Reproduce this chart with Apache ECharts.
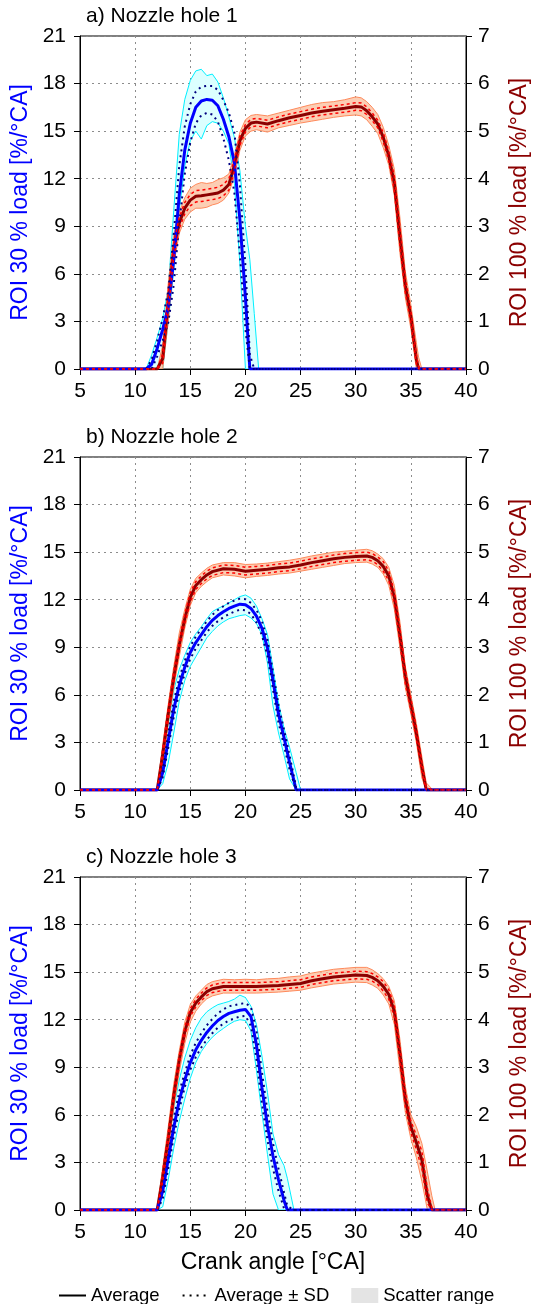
<!DOCTYPE html>
<html><head><meta charset="utf-8">
<script src="https://cdn.jsdelivr.net/npm/echarts@6/dist/echarts.min.js"></script>
<style>html,body{margin:0;padding:0;background:#fff;overflow:hidden}#c{width:534px;height:1304px}</style>
</head><body><div id="c"></div>
<script>
// ---------- data ----------
const xTicks = [5, 10, 15, 20, 25, 30, 35, 40];
const leftTicks = [0, 3, 6, 9, 12, 15, 18, 21];
const rightTicks = [0, 1, 2, 3, 4, 5, 6, 7];
const panelTitles = ['a) Nozzle hole 1', 'b) Nozzle hole 2', 'c) Nozzle hole 3'];

// panel a, 30 % load
const a30x   = [5, 11, 11.5, 12, 12.5, 13, 13.5, 14, 14.5, 15, 15.5, 16, 16.5, 17, 17.5, 18, 18.5, 19, 19.5, 20, 20.4, 20.8, 21.2, 40];
const a30avg = [0, 0, 0.3, 1.3, 2.5, 3.9, 6.9, 11.0, 13.8, 15.5, 16.5, 16.9, 17.0, 16.95, 16.6, 15.75, 14.65, 13.0, 9.4, 4.5, 0, 0, 0, 0];
const a30sd  = [0, 0, 0.3, 0.5, 0.7, 1.0, 1.6, 1.8, 1.5, 1.2, 1.0, 0.9, 0.85, 0.9, 1.0, 1.2, 1.5, 1.9, 2.2, 2.0, 0.9, 0, 0, 0];
const a30hi  = [0, 0, 0.9, 2.0, 3.2, 5.0, 10.0, 14.8, 17.0, 18.2, 18.8, 18.9, 18.5, 18.6, 18.1, 17.1, 15.9, 14.6, 12.5, 9.0, 6.9, 3.5, 0, 0];
const a30lo  = [0, 0, 0, 0, 0, 3.0, 6.2, 10.0, 12.8, 14.4, 15.0, 14.5, 15.35, 15.6, 15.5, 15.0, 14.2, 11.7, 6.6, 0, 0, 0, 0, 0];
// panel a, 100 % load
const a100x   = [5, 12, 12.5, 13, 13.5, 14, 14.5, 15, 15.5, 16, 16.5, 17, 17.5, 18, 18.5, 19, 19.5, 20, 20.5, 21, 22, 23, 24, 25, 26, 27, 28, 29, 30, 30.5, 31, 31.5, 32, 32.5, 33, 33.5, 34, 34.5, 35, 35.5, 35.7, 36, 40];
const a100avg = [0, 0, 0.22, 1.4, 2.5, 3.07, 3.38, 3.55, 3.63, 3.64, 3.66, 3.68, 3.7, 3.76, 3.88, 4.28, 4.8, 5.06, 5.17, 5.19, 5.15, 5.22, 5.28, 5.33, 5.38, 5.42, 5.45, 5.48, 5.52, 5.51, 5.43, 5.3, 5.15, 4.87, 4.48, 3.9, 2.8, 1.75, 1.1, 0.2, 0, 0, 0];
const a100sd  = [0, 0, 0.1, 0.2, 0.15, 0.12, 0.12, 0.12, 0.12, 0.12, 0.12, 0.12, 0.12, 0.12, 0.12, 0.12, 0.1, 0.08, 0.08, 0.08, 0.08, 0.08, 0.08, 0.08, 0.08, 0.08, 0.08, 0.08, 0.08, 0.08, 0.08, 0.08, 0.08, 0.1, 0.1, 0.15, 0.2, 0.15, 0.12, 0.1, 0.05, 0, 0];
const a100hi  = [0, 0, 0.5, 1.8, 2.8, 3.3, 3.6, 3.8, 3.88, 3.92, 3.9, 3.92, 3.98, 4.02, 4.1, 4.5, 4.98, 5.24, 5.33, 5.35, 5.32, 5.38, 5.44, 5.5, 5.56, 5.6, 5.62, 5.66, 5.72, 5.7, 5.62, 5.5, 5.35, 5.08, 4.7, 4.2, 3.2, 2.05, 1.35, 0.55, 0.25, 0, 0];
const a100lo  = [0, 0, 0, 1.0, 2.2, 2.85, 3.15, 3.3, 3.38, 3.38, 3.4, 3.45, 3.48, 3.55, 3.7, 4.05, 4.6, 4.9, 5.0, 5.03, 4.98, 5.07, 5.12, 5.17, 5.21, 5.25, 5.29, 5.32, 5.34, 5.32, 5.24, 5.1, 4.95, 4.65, 4.28, 3.65, 2.45, 1.5, 0.85, 0, 0, 0, 0];

// panel b, 30 % load
const b30x   = [5, 12, 12.5, 13, 13.5, 14, 14.5, 15, 15.5, 16, 16.5, 17, 17.5, 18, 18.5, 19, 19.5, 20, 20.5, 21, 21.5, 22, 22.5, 23, 23.5, 24, 24.6, 25, 40];
const b30avg = [0, 0, 1.1, 3.1, 5.1, 6.6, 7.75, 8.67, 9.3, 9.8, 10.3, 10.7, 11.0, 11.24, 11.45, 11.6, 11.72, 11.68, 11.45, 10.96, 10.2, 8.95, 6.9, 4.8, 3.3, 1.75, 0, 0, 0];
const b30sd  = [0, 0, 0.3, 0.45, 0.5, 0.45, 0.4, 0.4, 0.38, 0.36, 0.35, 0.35, 0.35, 0.35, 0.35, 0.35, 0.35, 0.35, 0.35, 0.4, 0.45, 0.5, 0.55, 0.55, 0.5, 0.45, 0.15, 0, 0];
const b30hi  = [0, 0, 2.0, 4.1, 6.3, 7.6, 8.5, 9.3, 9.85, 10.3, 10.8, 11.25, 11.45, 11.6, 11.8, 12.0, 12.2, 12.3, 12.1, 11.6, 10.8, 9.8, 7.7, 5.5, 3.9, 2.7, 1.1, 0, 0];
const b30lo  = [0, 0, 0.4, 1.7, 3.6, 5.6, 6.9, 7.8, 8.4, 9.0, 9.6, 10.0, 10.35, 10.6, 10.8, 10.9, 11.0, 11.05, 10.85, 10.5, 9.8, 8.0, 5.3, 3.6, 2.2, 0.7, 0, 0, 0];
// panel b, 100 % load
const b100x   = [5, 12, 12.5, 13, 13.5, 14, 14.5, 15, 15.5, 16, 16.5, 17, 18, 19, 20, 21, 22, 23, 24, 25, 26, 27, 28, 29, 30, 31, 31.5, 32, 32.5, 33, 33.5, 34, 34.5, 35, 35.5, 36, 36.4, 37, 40];
const b100avg = [0, 0, 0.75, 1.6, 2.37, 3.05, 3.6, 4.05, 4.3, 4.42, 4.52, 4.59, 4.65, 4.64, 4.6, 4.62, 4.64, 4.67, 4.69, 4.73, 4.78, 4.82, 4.86, 4.89, 4.91, 4.92, 4.89, 4.82, 4.7, 4.5, 4.05, 3.27, 2.38, 1.8, 1.19, 0.48, 0, 0, 0];
const b100sd  = [0, 0, 0.1, 0.12, 0.12, 0.1, 0.1, 0.1, 0.08, 0.08, 0.08, 0.08, 0.08, 0.08, 0.08, 0.08, 0.08, 0.08, 0.08, 0.08, 0.08, 0.08, 0.08, 0.08, 0.08, 0.08, 0.08, 0.08, 0.1, 0.1, 0.12, 0.15, 0.15, 0.12, 0.12, 0.1, 0.05, 0, 0];
const b100hi  = [0, 0, 0.95, 1.8, 2.6, 3.3, 3.8, 4.22, 4.45, 4.56, 4.66, 4.73, 4.78, 4.78, 4.74, 4.75, 4.77, 4.8, 4.83, 4.87, 4.92, 4.96, 5.0, 5.02, 5.04, 5.06, 5.03, 4.96, 4.86, 4.68, 4.3, 3.55, 2.6, 2.0, 1.4, 0.7, 0.15, 0, 0];
const b100lo  = [0, 0, 0.55, 1.4, 2.15, 2.8, 3.4, 3.88, 4.15, 4.28, 4.38, 4.46, 4.52, 4.5, 4.46, 4.49, 4.51, 4.54, 4.56, 4.6, 4.64, 4.68, 4.72, 4.76, 4.78, 4.79, 4.75, 4.68, 4.54, 4.3, 3.8, 3.0, 2.15, 1.6, 1.0, 0.25, 0, 0, 0];

// panel c, 30 % load
const c30x   = [5, 12, 12.5, 13, 13.5, 14, 14.5, 15, 15.5, 16, 16.5, 17, 17.5, 18, 18.5, 19, 19.5, 20, 20.5, 21, 21.5, 22, 22.5, 23, 23.5, 23.8, 24.4, 40];
const c30avg = [0, 0, 1.2, 3.2, 5.2, 6.9, 8.2, 9.3, 10.1, 10.7, 11.2, 11.6, 11.95, 12.2, 12.4, 12.5, 12.6, 12.65, 12.2, 10.4, 7.7, 5.3, 3.4, 1.9, 0.6, 0, 0, 0];
const c30sd  = [0, 0, 0.5, 0.6, 0.6, 0.55, 0.45, 0.45, 0.45, 0.45, 0.45, 0.45, 0.45, 0.45, 0.45, 0.42, 0.4, 0.4, 0.6, 0.9, 1.0, 0.9, 0.8, 0.7, 0.5, 0.25, 0, 0];
const c30hi  = [0, 0, 1.8, 4.2, 6.4, 8.2, 9.6, 10.7, 11.5, 12.1, 12.5, 12.75, 12.95, 13.05, 13.15, 13.3, 13.55, 13.4, 12.85, 11.7, 9.7, 7.4, 4.8, 3.5, 2.8, 2.0, 0, 0];
const c30lo  = [0, 0, 0.2, 1.9, 3.9, 5.6, 7.0, 8.3, 9.3, 10.0, 10.5, 10.9, 11.2, 11.45, 11.7, 11.9, 12.0, 11.95, 11.3, 8.8, 6.1, 3.5, 1.0, 0, 0, 0, 0, 0];
// panel c, 100 % load
const c100x   = [5, 12, 12.5, 13, 13.5, 14, 14.5, 15, 15.5, 16, 16.5, 17, 18, 19, 20, 21, 22, 23, 24, 25, 26, 27, 28, 29, 30, 31, 31.5, 32, 32.5, 33, 33.5, 34, 34.5, 35, 35.5, 36, 36.5, 36.9, 37.2, 40];
const c100avg = [0, 0, 0.7, 1.5, 2.4, 3.15, 3.75, 4.15, 4.35, 4.48, 4.59, 4.65, 4.7, 4.7, 4.7, 4.7, 4.71, 4.72, 4.74, 4.76, 4.82, 4.86, 4.9, 4.92, 4.94, 4.93, 4.89, 4.82, 4.7, 4.53, 4.18, 3.3, 2.32, 1.75, 1.42, 1.05, 0.3, 0, 0, 0];
const c100sd  = [0, 0, 0.1, 0.12, 0.12, 0.1, 0.1, 0.08, 0.08, 0.08, 0.08, 0.08, 0.08, 0.08, 0.08, 0.08, 0.08, 0.08, 0.08, 0.08, 0.08, 0.08, 0.08, 0.08, 0.08, 0.08, 0.08, 0.08, 0.1, 0.1, 0.12, 0.15, 0.15, 0.12, 0.15, 0.18, 0.15, 0.05, 0, 0];
const c100hi  = [0, 0, 0.9, 1.75, 2.65, 3.35, 3.95, 4.32, 4.5, 4.62, 4.74, 4.8, 4.85, 4.84, 4.85, 4.84, 4.86, 4.87, 4.9, 4.92, 4.98, 5.02, 5.06, 5.08, 5.1, 5.1, 5.05, 4.97, 4.86, 4.7, 4.4, 3.6, 2.6, 2.0, 1.75, 1.4, 0.8, 0.3, 0, 0];
const c100lo  = [0, 0, 0.5, 1.25, 2.15, 2.9, 3.5, 3.95, 4.18, 4.33, 4.44, 4.5, 4.56, 4.56, 4.56, 4.56, 4.57, 4.58, 4.6, 4.62, 4.67, 4.71, 4.75, 4.77, 4.79, 4.78, 4.73, 4.66, 4.52, 4.33, 3.9, 2.95, 2.05, 1.5, 1.1, 0.6, 0, 0, 0, 0];

const legendNames = ['Average', 'Average \u00b1 SD', 'Scatter range'];

// ---------- layout / styles ----------
const FONT = 'Liberation Sans, Arial, sans-serif';
const gridTops = [36, 457, 877];
const titleTops = [5, 426, 846];
const panels = [
  { low: {x: a30x, avg: a30avg, sd: a30sd, hi: a30hi, lo: a30lo}, high: {x: a100x, avg: a100avg, sd: a100sd, hi: a100hi, lo: a100lo} },
  { low: {x: b30x, avg: b30avg, sd: b30sd, hi: b30hi, lo: b30lo}, high: {x: b100x, avg: b100avg, sd: b100sd, hi: b100hi, lo: b100lo} },
  { low: {x: c30x, avg: c30avg, sd: c30sd, hi: c30hi, lo: c30lo}, high: {x: c100x, avg: c100avg, sd: c100sd, hi: c100hi, lo: c100lo} }
];

const pairs = (xs, ys) => xs.map((v, k) => [v, ys[k]]);
const plusSd = d => d.x.map((v, k) => [v, d.avg[k] + d.sd[k]]);
const minusSd = d => d.x.map((v, k) => [v, Math.max(0, d.avg[k] - d.sd[k])]);

function band(i, yIdx, d, fill, stroke, z) {
  return {
    type: 'custom', xAxisIndex: i, yAxisIndex: yIdx, z: z, silent: true, clip: true,
    data: [[d.x[0], 0]],
    renderItem: function (params, api) {
      const pts = [];
      for (let k = 0; k < d.x.length; k++) pts.push(api.coord([d.x[k], d.hi[k]]));
      for (let k = d.x.length - 1; k >= 0; k--) pts.push(api.coord([d.x[k], d.lo[k]]));
      return { type: 'polygon', shape: { points: pts }, style: { fill: fill, stroke: stroke, lineWidth: 1 } };
    }
  };
}
function line(i, yIdx, data, color, width, type, z) {
  return {
    type: 'line', xAxisIndex: i, yAxisIndex: yIdx, data: data, z: z, silent: true,
    symbol: 'none', lineStyle: { color: color, width: width, type: type }, itemStyle: { color: color }
  };
}

const grids = [], xAxes = [], yAxes = [], series = [], titles = [];
const dotted = { color: '#8c8c8c', width: 1, type: [2, 4] };
panels.forEach((p, i) => {
  grids.push({ left: 80, right: 68, top: gridTops[i], height: 333, show: true, borderColor: '#000', borderWidth: 1,
    containLabel: false, outerBoundsMode: 'none' });
  titles.push({ text: panelTitles[i], left: 86, top: titleTops[i], padding: 0,
    textStyle: { fontFamily: FONT, fontSize: 21, fontWeight: 'normal', color: '#000', lineHeight: 22 } });
  xAxes.push({
    gridIndex: i, type: 'value', min: xTicks[0], max: xTicks[xTicks.length - 1], interval: 5,
    axisLine: { show: true, onZero: false, lineStyle: { color: '#000', width: 1 } },
    axisTick: { show: true, inside: false, length: 6, lineStyle: { color: '#000' } },
    axisLabel: { color: '#000', fontFamily: FONT, fontSize: 21, margin: 12 },
    splitLine: { show: true, lineStyle: dotted },
    name: i === 2 ? 'Crank angle [\u00b0CA]' : '', nameLocation: 'middle', nameGap: 41,
    nameTextStyle: { color: '#000', fontFamily: FONT, fontSize: 23 }
  });
  yAxes.push({
    gridIndex: i, type: 'value', position: 'left', min: leftTicks[0], max: leftTicks[leftTicks.length - 1], interval: 3,
    axisLine: { show: true, onZero: false, lineStyle: { color: '#000', width: 1 } },
    axisTick: { show: true, inside: false, length: 6, lineStyle: { color: '#000' } },
    axisLabel: { color: '#000', fontFamily: FONT, fontSize: 21, margin: 14 },
    splitLine: { show: true, lineStyle: dotted },
    name: 'ROI 30 % load [%/\u00b0CA]', nameLocation: 'middle', nameRotate: 90, nameGap: 42,
    nameTextStyle: { color: '#0000ff', fontFamily: FONT, fontSize: 23 }
  });
  yAxes.push({
    gridIndex: i, type: 'value', position: 'right', min: rightTicks[0], max: rightTicks[rightTicks.length - 1], interval: 1,
    axisLine: { show: true, onZero: false, lineStyle: { color: '#000', width: 1 } },
    axisTick: { show: true, inside: false, length: 6, lineStyle: { color: '#000' } },
    axisLabel: { color: '#000', fontFamily: FONT, fontSize: 21, margin: 12 },
    splitLine: { show: false },
    name: 'ROI 100 % load [%/\u00b0CA]', nameLocation: 'middle', nameRotate: 90, nameGap: 42,
    nameTextStyle: { color: '#8b0000', fontFamily: FONT, fontSize: 23 }
  });
  const yl = 2 * i, yr = 2 * i + 1;
  series.push(band(i, yl, p.low, '#dcffff', '#00f0ff', 1));
  series.push(band(i, yr, p.high, 'rgba(251,190,155,0.75)', '#ff8a5c', 2));
  series.push(line(i, yr, pairs(p.high.x, p.high.avg), '#8b0000', 3, 'solid', 3));
  series.push(line(i, yl, pairs(p.low.x, p.low.avg), '#0000ff', 3, 'solid', 4));
  series.push(line(i, yl, plusSd(p.low), '#000080', 2, [2, 4], 5));
  series.push(line(i, yl, minusSd(p.low), '#000080', 2, [2, 4], 5));
  series.push(line(i, yr, plusSd(p.high), '#ff0000', 1.5, [3, 3], 6));
  series.push(line(i, yr, minusSd(p.high), '#ff0000', 1.5, [3, 3], 6));
});
// legend entries (no data)
series.push({ name: legendNames[0], type: 'line', xAxisIndex: 2, yAxisIndex: 4, data: [], symbol: 'none',
  lineStyle: { color: '#000', width: 4 }, itemStyle: { color: 'rgba(0,0,0,0)', borderColor: 'rgba(0,0,0,0)' } });
series.push({ name: legendNames[1], type: 'line', xAxisIndex: 2, yAxisIndex: 4, data: [], symbol: 'none',
  lineStyle: { color: '#000', width: 2, type: [2, 5] }, itemStyle: { color: 'rgba(0,0,0,0)', borderColor: 'rgba(0,0,0,0)' } });
series.push({ name: legendNames[2], type: 'line', xAxisIndex: 2, yAxisIndex: 4, data: [], symbol: 'none',
  lineStyle: { color: '#e4e4e4', width: 0 }, itemStyle: { color: '#e4e4e4' } });

const chart = echarts.init(document.getElementById('c'), null, { renderer: 'canvas' });
chart.setOption({
  animation: false,
  backgroundColor: '#fff',
  title: titles,
  grid: grids, xAxis: xAxes, yAxis: yAxes, series: series,
  legend: {
    left: 58, top: 1286, itemWidth: 27, itemHeight: 15, itemGap: 22, padding: 0,
    selectedMode: false,
    textStyle: { color: '#000', fontFamily: FONT, fontSize: 18.5 },
    data: [
      { name: legendNames[0], itemStyle: { opacity: 0 } },
      { name: legendNames[1], itemStyle: { opacity: 0 } },
      { name: legendNames[2], icon: 'rect' }
    ]
  }
});
</script>
</body></html>
